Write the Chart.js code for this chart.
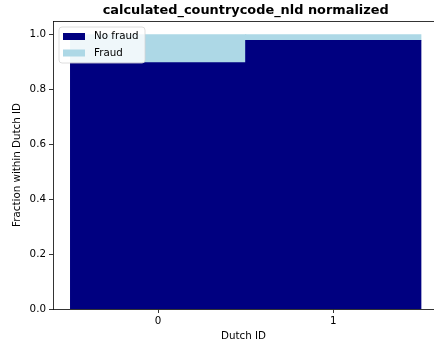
<!DOCTYPE html>
<html>
<head>
<meta charset="utf-8">
<script src="https://cdn.jsdelivr.net/npm/chart.js@4/dist/chart.umd.min.js"></script>
<style>
  html, body { margin: 0; padding: 0; background: #fff; }
  canvas { display: block; }
</style>
</head>
<body>
<canvas id="c" width="434" height="346"></canvas>
<script>
// Dutch ID groups and the share of each fraud class within them
const categories = [0, 1];
const noFraud = [0.898, 0.979];
const fraud = [0.102, 0.021];
const yTicks = [0, 0.2, 0.4, 0.6, 0.8, 1.0];
const seriesNames = ['No fraud', 'Fraud'];
const chartTitle = 'calculated_countrycode_nld normalized';
const xTitle = 'Dutch ID';
const yTitle = 'Fraction within Dutch ID';

const FONT = 'DejaVu Sans';
const SIZE = 10.3;
const colors = ['#000080', '#add8e6'];

const toPoints = vals => categories.map((c, i) => ({ x: c, y: vals[i] }));

// Title above the axes, top spine, and the boxed legend in the upper-left corner
const decorations = {
  id: 'decorations',
  afterDraw(chart) {
    const { ctx, chartArea } = chart;
    const xs = chart.scales.x;
    ctx.save();
    // top spine
    ctx.strokeStyle = '#000';
    ctx.lineWidth = 0.8;
    ctx.beginPath();
    ctx.moveTo(chartArea.left, chartArea.top + 0.5);
    ctx.lineTo(chartArea.right, chartArea.top + 0.5);
    ctx.stroke();

    // title, centred over the full axes span (-0.6 .. 1.6)
    ctx.fillStyle = '#000';
    ctx.font = 'bold 12.9px "' + FONT + '"';
    ctx.textAlign = 'center';
    ctx.textBaseline = 'middle';
    ctx.fillText(chartTitle, xs.getPixelForValue(0.5), 11);

    // legend
    const bx = chartArea.left + 6, by = chartArea.top + 6, bw = 86, bh = 36, r = 3;
    ctx.beginPath();
    ctx.moveTo(bx + r, by);
    ctx.lineTo(bx + bw - r, by);
    ctx.quadraticCurveTo(bx + bw, by, bx + bw, by + r);
    ctx.lineTo(bx + bw, by + bh - r);
    ctx.quadraticCurveTo(bx + bw, by + bh, bx + bw - r, by + bh);
    ctx.lineTo(bx + r, by + bh);
    ctx.quadraticCurveTo(bx, by + bh, bx, by + bh - r);
    ctx.lineTo(bx, by + r);
    ctx.quadraticCurveTo(bx, by, bx + r, by);
    ctx.closePath();
    ctx.fillStyle = 'rgba(255,255,255,0.8)';
    ctx.fill();
    ctx.strokeStyle = '#d6d6d6';
    ctx.lineWidth = 0.8;
    ctx.stroke();

    ctx.font = SIZE + 'px "' + FONT + '"';
    ctx.textAlign = 'left';
    ctx.textBaseline = 'middle';
    chart.data.datasets.forEach((ds, i) => {
      const cy = by + 9.5 + i * 16.5;
      ctx.fillStyle = ds.backgroundColor;
      ctx.fillRect(bx + 4, cy - 3.5, 22, 7);
      ctx.fillStyle = '#000';
      ctx.fillText(ds.label, bx + 35, cy);
    });
    ctx.restore();
  }
};

new Chart(document.getElementById('c'), {
  type: 'bar',
  data: {
    datasets: [
      { label: seriesNames[0], data: toPoints(noFraud), backgroundColor: colors[0],
        barPercentage: 1, categoryPercentage: 1, borderWidth: 0, inflateAmount: 0.5 },
      { label: seriesNames[1], data: toPoints(fraud), backgroundColor: colors[1],
        barPercentage: 1, categoryPercentage: 1, borderWidth: 0, inflateAmount: 0.5 }
    ]
  },
  options: {
    responsive: false,
    animation: false,
    layout: { padding: { top: 21, right: 0, left: 0, bottom: 0 } },
    plugins: {
      legend: { display: false },
      title: { display: false },
      tooltip: { enabled: false }
    },
    scales: {
      x: {
        type: 'linear',
        stacked: true,
        offset: false,
        min: -0.6,
        max: 1.575,
        afterBuildTicks: s => { s.ticks = categories.map(v => ({ value: v })); },
        afterFit: s => { s.height = 37; },
        ticks: {
          color: '#000',
          padding: 2,
          font: { family: FONT, size: SIZE },
          callback: v => String(v)
        },
        grid: { offset: false, drawOnChartArea: false, tickLength: 4, tickColor: '#000', lineWidth: 0.8 },
        border: { color: '#000', width: 0.8 },
        title: {
          display: true, text: xTitle, color: '#000',
          font: { family: FONT, size: SIZE },
          padding: { top: 0, bottom: 3 }
        }
      },
      y: {
        stacked: true,
        min: 0,
        max: 1.05,
        afterBuildTicks: s => { s.ticks = yTicks.map(v => ({ value: v })); },
        afterFit: s => { s.width = 53; },
        ticks: {
          color: '#000',
          padding: 3,
          font: { family: FONT, size: SIZE },
          callback: v => Number(v).toFixed(1)
        },
        grid: { drawOnChartArea: false, tickLength: 4, tickColor: '#000', lineWidth: 0.8 },
        border: { color: '#000', width: 0.8 },
        title: {
          display: true, text: yTitle, color: '#000',
          font: { family: FONT, size: SIZE },
          padding: { top: 11, bottom: 0 }
        }
      }
    }
  },
  plugins: [decorations]
});
</script>
</body>
</html>
